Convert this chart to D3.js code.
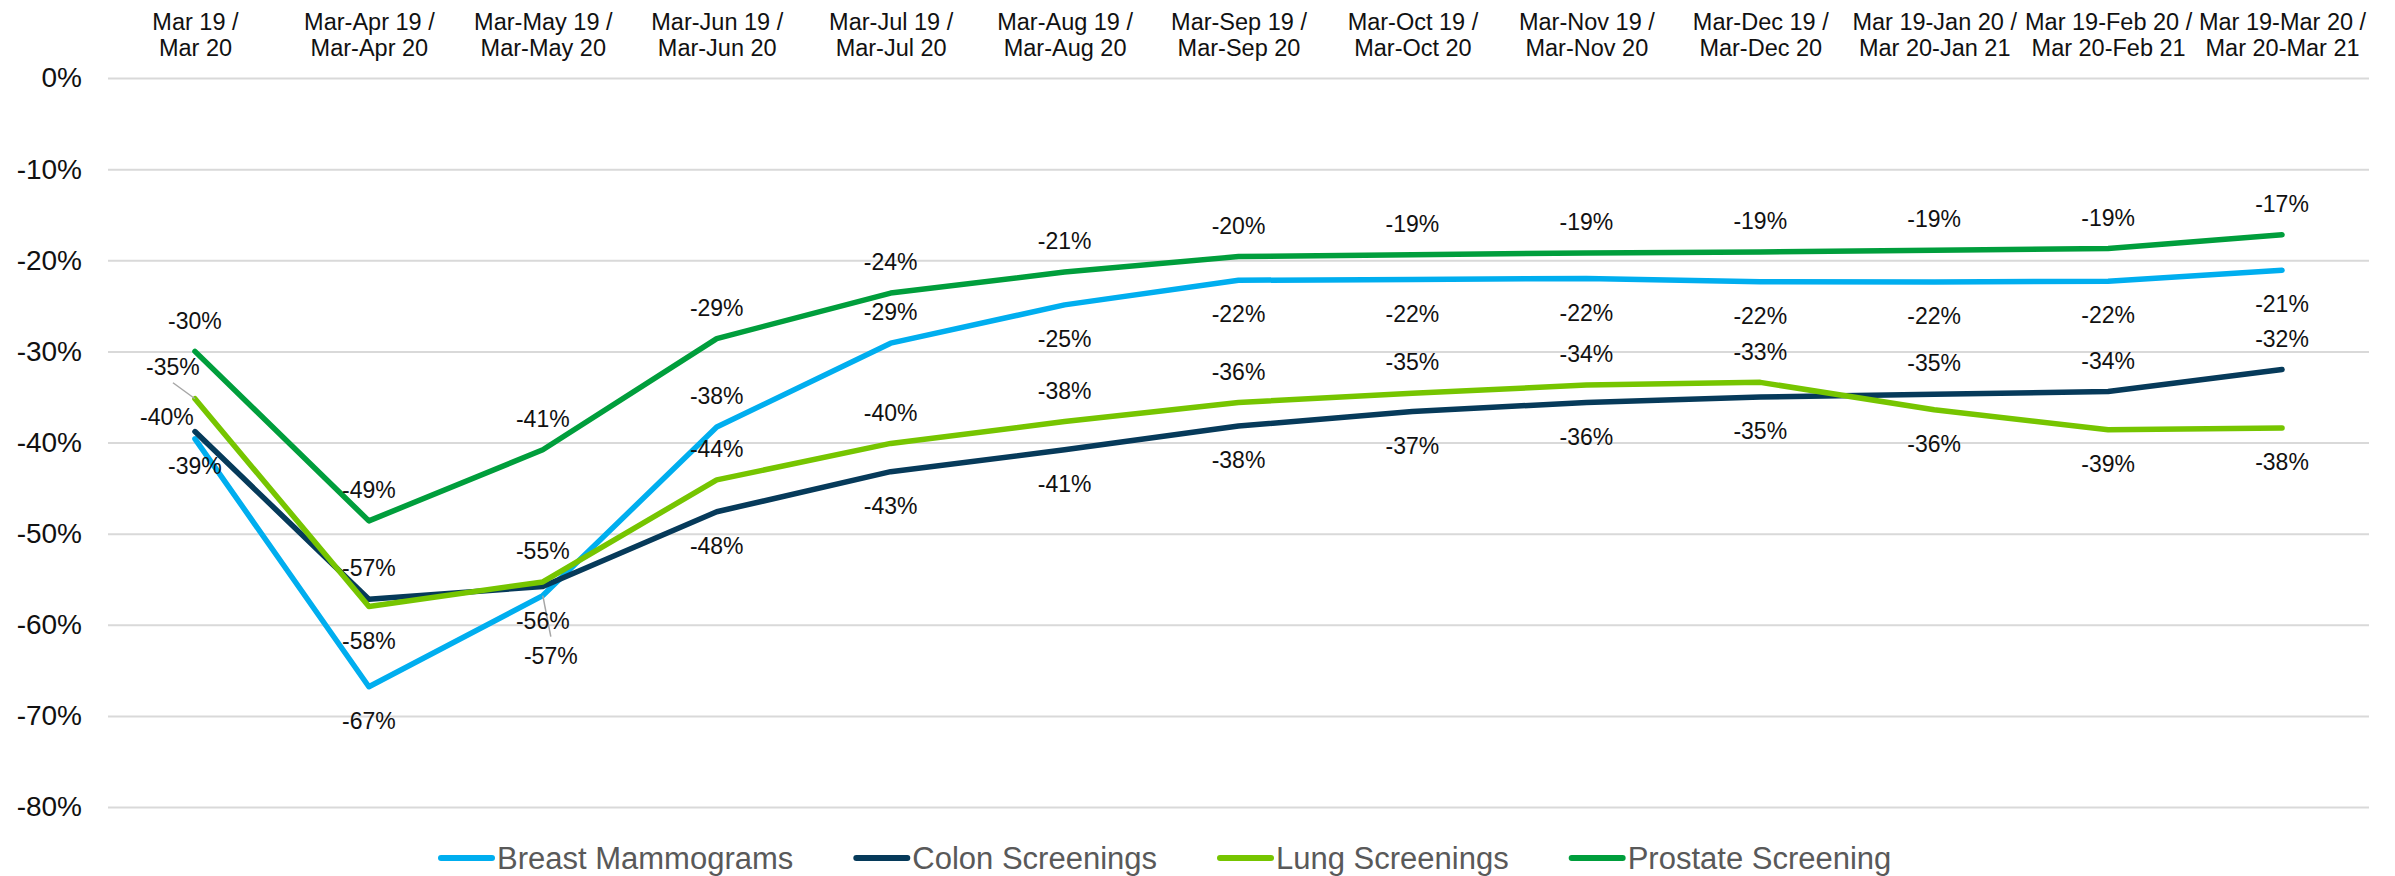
<!DOCTYPE html>
<html>
<head>
<meta charset="utf-8">
<script src="https://cdn.jsdelivr.net/npm/d3@7"></script>
<style>
  body { margin: 0; background: #fff; }
  svg { display: block; font-family: "Liberation Sans", Arial, sans-serif; }
</style>
</head>
<body>
<svg width="2395" height="876"></svg>
<script>
// categories (each split into two lines after the slash)
var categories = [
  "Mar 19 / Mar 20", "Mar-Apr 19 / Mar-Apr 20", "Mar-May 19 / Mar-May 20",
  "Mar-Jun 19 / Mar-Jun 20", "Mar-Jul 19 / Mar-Jul 20", "Mar-Aug 19 / Mar-Aug 20",
  "Mar-Sep 19 / Mar-Sep 20", "Mar-Oct 19 / Mar-Oct 20", "Mar-Nov 19 / Mar-Nov 20",
  "Mar-Dec 19 / Mar-Dec 20", "Mar 19-Jan 20 / Mar 20-Jan 21",
  "Mar 19-Feb 20 / Mar 20-Feb 21", "Mar 19-Mar 20 / Mar 20-Mar 21"
];

var seriesNames = ["Breast Mammograms", "Colon Screenings", "Lung Screenings", "Prostate Screening"];

var breast   = [-39.6, -66.8, -56.8, -38.3, -29.1, -24.9, -22.2, -22.1, -22.0, -22.35, -22.4, -22.3, -21.1];
var colon    = [-38.8, -57.2, -55.8, -47.6, -43.2, -40.8, -38.2, -36.6, -35.6, -35.0, -34.7, -34.4, -32.0];
var lung     = [-35.2, -58.0, -55.3, -44.1, -40.1, -37.7, -35.6, -34.6, -33.7, -33.4, -36.4, -38.6, -38.4];
var prostate = [-30.0, -48.6, -40.8, -28.6, -23.6, -21.3, -19.6, -19.4, -19.2, -19.1, -18.9, -18.7, -17.2];

var yTicks = [0, -10, -20, -30, -40, -50, -60, -70, -80];

var colors = ["#00AEEF", "#063A5A", "#76C500", "#009E3C"];

// label placement: default side per series, plus a few hand-moved labels
var labelSide = ["below", "below", "above", "above"];
var labelMoves = {
  "0:0": {dx: -28, dy: -22},
  "0:2": {dx: 8, dy: 60, leader: true},
  "0:3": {side: "above"},
  "0:4": {side: "above"},
  "1:1": {side: "above"},
  "1:10": {side: "above"},
  "1:11": {side: "above"},
  "1:12": {side: "above"},
  "2:0": {dx: -22, dy: -32, leader: true},
  "2:1": {side: "below"},
  "2:10": {side: "below"},
  "2:11": {side: "below"},
  "2:12": {side: "below"}
};

var svg = d3.select("svg"),
    margin = {top: 78, right: 26, bottom: 69, left: 108},
    width = +svg.attr("width") - margin.left - margin.right,
    height = +svg.attr("height") - margin.top - margin.bottom;

var x = d3.scalePoint().domain(categories).range([0, width]).padding(0.5),
    y = d3.scaleLinear().domain([0, -80]).range([0, height]);

var g = svg.append("g")
    .attr("transform", "translate(" + margin.left + "," + margin.top + ")");

// gridlines + y labels
var yAxis = g.append("g")
    .attr("class", "axis axis--y")
    .call(d3.axisLeft(y).tickValues(yTicks).tickSize(-width).tickPadding(26)
      .tickFormat(function (d) { return d + "%"; }));
yAxis.select(".domain").remove();
yAxis.selectAll("line").attr("stroke", "#D9D9D9").attr("stroke-width", 2);
yAxis.selectAll("text")
    .attr("font-family", "Liberation Sans, Arial, sans-serif")
    .attr("font-size", 28)
    .attr("fill", "#111");

// category labels on top
var xAxis = svg.append("g")
    .attr("class", "axis axis--x")
    .attr("transform", "translate(" + margin.left + ",0)")
    .call(d3.axisTop(x).tickSize(0));
xAxis.select(".domain").remove();
xAxis.selectAll("text")
    .attr("font-family", "Liberation Sans, Arial, sans-serif")
    .attr("font-size", 23.5)
    .attr("fill", "#111")
    .attr("dy", null)
    .each(function (d) {
      var cut = d.indexOf("/ ");
      var t = d3.select(this).text(null);
      t.append("tspan").attr("x", 0).attr("y", 29.5).text(d.slice(0, cut + 1));
      t.append("tspan").attr("x", 0).attr("y", 56).text(d.slice(cut + 2));
    });

var allSeries = [breast, colon, lung, prostate];

var line = d3.line()
    .x(function (d, i) { return x(categories[i]); })
    .y(function (d) { return y(d); });

g.selectAll(".series")
    .data(allSeries)
    .enter().append("path")
    .attr("class", "series")
    .attr("fill", "none")
    .attr("stroke", function (d, i) { return colors[i]; })
    .attr("stroke-width", 5.5)
    .attr("stroke-linejoin", "round")
    .attr("stroke-linecap", "round")
    .attr("d", line);

// data labels
var labels = [];
allSeries.forEach(function (vals, s) {
  vals.forEach(function (v, i) {
    var mv = labelMoves[s + ":" + i] || {};
    var side = mv.side || labelSide[s];
    var px = x(categories[i]), py = y(v);
    var dx = mv.dx || 0;
    var dy = mv.dy !== undefined ? mv.dy : (side === "above" ? -31 : 34);
    labels.push({text: Math.round(v) + "%", px: px, py: py, lx: px + dx, ly: py + dy, leader: mv.leader});
  });
});

g.selectAll(".leader")
    .data(labels.filter(function (d) { return d.leader; }))
    .enter().append("line")
    .attr("class", "leader")
    .attr("stroke", "#A6A6A6")
    .attr("stroke-width", 1.5)
    .attr("x1", function (d) { return d.px; })
    .attr("y1", function (d) { return d.py; })
    .attr("x2", function (d) { return d.lx; })
    .attr("y2", function (d) { return d.ly + (d.ly > d.py ? -19 : 16); });

g.selectAll(".dlabel")
    .data(labels)
    .enter().append("text")
    .attr("class", "dlabel")
    .attr("x", function (d) { return d.lx; })
    .attr("y", function (d) { return d.ly + 8.2; })
    .attr("text-anchor", "middle")
    .attr("font-size", 23)
    .attr("fill", "#111")
    .text(function (d) { return d.text; });

// legend
var legend = svg.append("g").attr("class", "legend");
var lx = 438, legendY = 858;
seriesNames.forEach(function (name, i) {
  legend.append("line")
      .attr("x1", lx + 3).attr("x2", lx + 54)
      .attr("y1", legendY).attr("y2", legendY)
      .attr("stroke", colors[i])
      .attr("stroke-width", 6)
      .attr("stroke-linecap", "round");
  var t = legend.append("text")
      .attr("x", lx + 59)
      .attr("y", legendY + 10.5)
      .attr("font-size", 31)
      .attr("fill", "#595959")
      .text(name);
  lx += 59 + t.node().getComputedTextLength() + 60;
});
</script>
</body>
</html>
